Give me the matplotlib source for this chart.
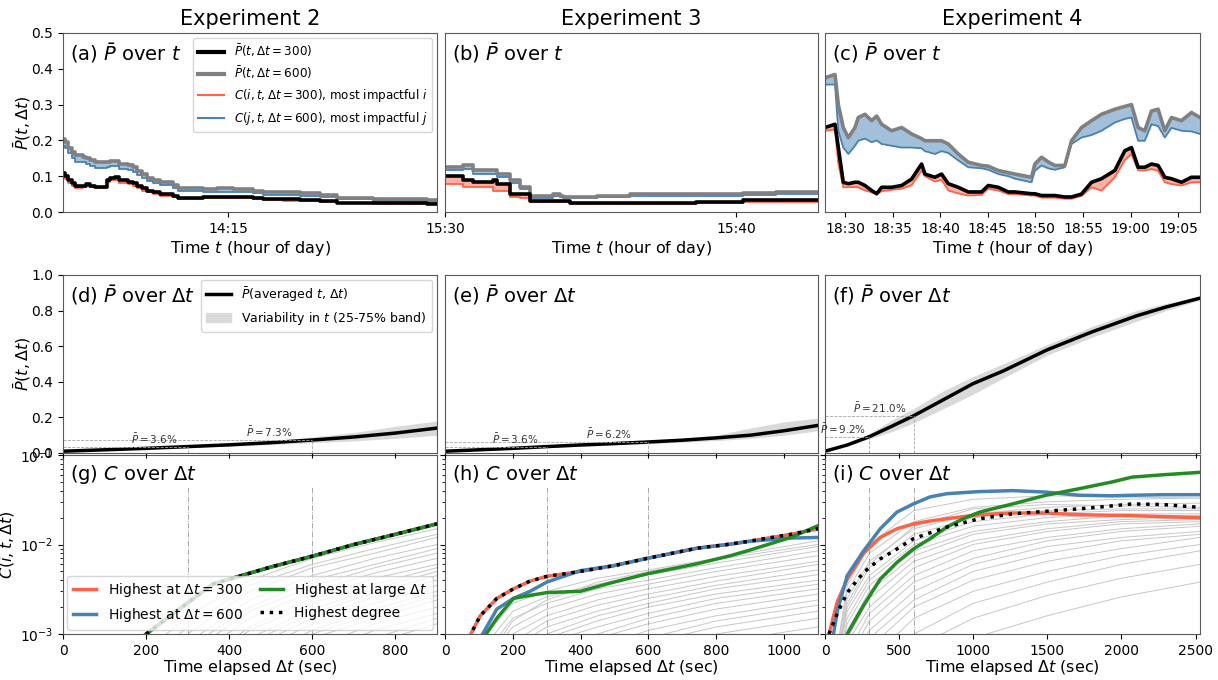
import numpy as np
import matplotlib.pyplot as plt
from matplotlib.ticker import FuncFormatter
from matplotlib.lines import Line2D
from matplotlib.patches import Patch

plt.rcParams['axes.edgecolor'] = '0.35'
plt.rcParams['xtick.labelsize'] = 10
plt.rcParams['ytick.labelsize'] = 10

RED = 'tomato'
BLUE = 'steelblue'
GREEN = 'forestgreen'

# ---------------- top row: P over t (minutes of the day) ----------------
exp2_t0 = 13 * 60 + 15.6
exp2_t = [0, 0.7, 1.9, 3.1, 4.3, 7.3, 8.3, 9.7, 11.5, 15.9, 16.9, 18.7, 20.2, 23.5, 25.3, 26.7, 28.3,
          30.1, 32.2, 34.9, 39.6, 41.4, 50.4, 55.2, 61.2, 68.4, 72.0, 79.2, 85.2, 92.3, 98.3, 111.5,
          121.1, 130.7, 134.4]
exp2_p300 = [0.110, 0.100, 0.090, 0.080, 0.072, 0.074, 0.078, 0.073, 0.070, 0.090, 0.095, 0.097, 0.088,
             0.085, 0.080, 0.072, 0.066, 0.060, 0.055, 0.050, 0.045, 0.040, 0.042, 0.043, 0.042, 0.040,
             0.036, 0.035, 0.034, 0.032, 0.026, 0.025, 0.024, 0.022, 0.022]
exp2_p600 = [0.205, 0.195, 0.180, 0.168, 0.158, 0.155, 0.150, 0.145, 0.140, 0.140, 0.142, 0.143, 0.135,
             0.130, 0.125, 0.115, 0.105, 0.095, 0.090, 0.085, 0.075, 0.068, 0.065, 0.066, 0.064, 0.060,
             0.055, 0.055, 0.052, 0.048, 0.040, 0.036, 0.035, 0.033, 0.033]
exp2_c300 = [0.100, 0.092, 0.082, 0.074, 0.068, 0.070, 0.073, 0.069, 0.067, 0.084, 0.088, 0.090, 0.082,
             0.079, 0.074, 0.066, 0.060, 0.055, 0.050, 0.045, 0.041, 0.036, 0.038, 0.039, 0.038, 0.036,
             0.033, 0.032, 0.031, 0.029, 0.024, 0.023, 0.022, 0.021, 0.021]
exp2_c600 = [0.185, 0.180, 0.165, 0.150, 0.140, 0.140, 0.135, 0.128, 0.124, 0.125, 0.128, 0.128, 0.120,
             0.116, 0.112, 0.102, 0.094, 0.086, 0.082, 0.076, 0.066, 0.058, 0.056, 0.057, 0.055, 0.052,
             0.048, 0.048, 0.045, 0.042, 0.035, 0.031, 0.030, 0.029, 0.029]

exp3_t0 = 15 * 60 + 30
exp3_t = [0, 0.63, 0.97, 1.66, 1.77, 2.23, 2.57, 2.91, 3.71, 3.94, 4.06, 4.29, 5.2, 6.34, 8.63, 10.23,
          11.37, 12.8]
exp3_p300 = [0.100, 0.090, 0.083, 0.088, 0.077, 0.051, 0.051, 0.032, 0.032, 0.032, 0.032, 0.025, 0.025,
             0.025, 0.028, 0.034, 0.034, 0.034]
exp3_p600 = [0.127, 0.130, 0.118, 0.118, 0.105, 0.088, 0.071, 0.044, 0.051, 0.046, 0.042, 0.042, 0.046,
             0.051, 0.051, 0.052, 0.056, 0.056]
exp3_c300 = [0.079, 0.069, 0.069, 0.060, 0.060, 0.042, 0.040, 0.028, 0.028, 0.028, 0.028, 0.022, 0.022,
             0.022, 0.024, 0.029, 0.029, 0.029]
exp3_c600 = [0.116, 0.120, 0.107, 0.107, 0.097, 0.080, 0.065, 0.040, 0.045, 0.042, 0.040, 0.040, 0.042,
             0.046, 0.046, 0.047, 0.050, 0.050]

exp4_t0 = 18 * 60 + 30
exp4_t = [-2.10, -1.05, -0.70, -0.18, 0.35, 1.05, 1.40, 2.10, 2.80, 3.33, 3.85, 4.90, 5.95, 7.00, 8.05,
          8.40, 9.45, 10.15, 10.85, 11.90, 12.95, 14.35, 15.05, 16.10, 17.15, 17.85, 19.60, 19.95, 20.65,
          21.35, 22.05, 23.10, 23.80, 24.85, 25.90, 26.95, 28.35, 29.40, 30.10, 30.80, 31.50, 32.20,
          32.90, 33.60, 34.30, 35.35, 36.40, 37.30]
exp4_p300 = [0.236, 0.245, 0.180, 0.083, 0.079, 0.083, 0.083, 0.074, 0.060, 0.051, 0.069, 0.069, 0.074,
             0.092, 0.134, 0.106, 0.097, 0.106, 0.079, 0.069, 0.056, 0.056, 0.074, 0.069, 0.056, 0.056,
             0.051, 0.051, 0.046, 0.046, 0.046, 0.042, 0.042, 0.050, 0.083, 0.093, 0.116, 0.171, 0.180,
             0.125, 0.125, 0.134, 0.130, 0.097, 0.093, 0.083, 0.097, 0.097]
exp4_p600 = [0.375, 0.384, 0.300, 0.236, 0.208, 0.236, 0.264, 0.273, 0.255, 0.268, 0.245, 0.227, 0.236,
             0.218, 0.205, 0.199, 0.199, 0.199, 0.190, 0.162, 0.139, 0.130, 0.128, 0.116, 0.110, 0.106,
             0.097, 0.134, 0.153, 0.140, 0.130, 0.130, 0.199, 0.236, 0.255, 0.273, 0.287, 0.295, 0.300,
             0.236, 0.227, 0.282, 0.287, 0.227, 0.264, 0.255, 0.278, 0.264]
exp4_c300 = [0.227, 0.230, 0.135, 0.069, 0.069, 0.070, 0.069, 0.060, 0.055, 0.050, 0.058, 0.062, 0.065,
             0.075, 0.116, 0.100, 0.085, 0.090, 0.060, 0.052, 0.046, 0.048, 0.065, 0.060, 0.050, 0.050,
             0.046, 0.046, 0.040, 0.040, 0.040, 0.037, 0.037, 0.045, 0.069, 0.060, 0.097, 0.145, 0.162,
             0.116, 0.116, 0.120, 0.115, 0.083, 0.078, 0.074, 0.083, 0.083]
exp4_c600 = [0.356, 0.356, 0.227, 0.180, 0.162, 0.185, 0.199, 0.205, 0.195, 0.200, 0.190, 0.185, 0.180,
             0.180, 0.178, 0.170, 0.162, 0.170, 0.165, 0.144, 0.125, 0.122, 0.118, 0.106, 0.100, 0.093,
             0.083, 0.115, 0.130, 0.122, 0.118, 0.125, 0.190, 0.208, 0.215, 0.227, 0.250, 0.260, 0.264,
             0.199, 0.199, 0.245, 0.240, 0.208, 0.235, 0.227, 0.225, 0.218]

# ---------------- middle row: P over dt ----------------
exp2_dt = [0, 100, 200, 300, 400, 500, 600, 700, 800, 900]
exp2_pm = [0.010, 0.018, 0.026, 0.036, 0.046, 0.058, 0.073, 0.090, 0.112, 0.140]
exp2_lo = [0.008, 0.015, 0.022, 0.030, 0.038, 0.047, 0.058, 0.068, 0.082, 0.100]
exp2_hi = [0.012, 0.022, 0.030, 0.042, 0.054, 0.068, 0.090, 0.115, 0.150, 0.180]

exp3_dt = [0, 100, 200, 300, 400, 500, 600, 700, 800, 900, 1000, 1100]
exp3_pm = [0.010, 0.018, 0.026, 0.036, 0.045, 0.053, 0.062, 0.072, 0.085, 0.100, 0.125, 0.155]
exp3_lo = [0.008, 0.015, 0.022, 0.031, 0.038, 0.045, 0.052, 0.060, 0.070, 0.082, 0.100, 0.125]
exp3_hi = [0.012, 0.021, 0.030, 0.041, 0.051, 0.060, 0.070, 0.082, 0.100, 0.140, 0.175, 0.196]

exp4_dt = [0, 150, 300, 450, 600, 800, 1000, 1200, 1500, 1800, 2100, 2300, 2530]
exp4_pm = [0.010, 0.045, 0.092, 0.150, 0.210, 0.300, 0.390, 0.460, 0.580, 0.680, 0.770, 0.820, 0.870]
exp4_lo = [0.008, 0.038, 0.080, 0.120, 0.170, 0.250, 0.330, 0.420, 0.550, 0.650, 0.740, 0.800, 0.860]
exp4_hi = [0.012, 0.055, 0.110, 0.185, 0.250, 0.350, 0.430, 0.500, 0.610, 0.710, 0.800, 0.840, 0.880]

# ---------------- bottom row: C over dt (log) ----------------
exp2_cdt = [200, 280, 360, 400, 500, 600, 700, 800, 900]
exp2_best = [0.0010, 0.0019, 0.0036, 0.0041, 0.0056, 0.0074, 0.0100, 0.0130, 0.0170]

exp3_cdt = [70, 104, 153, 202, 251, 300, 399, 498, 596, 744, 842, 892, 941, 1020, 1100]
exp3_c300dt = [0.0009, 0.0016, 0.0025, 0.0032, 0.0039, 0.0044, 0.0050, 0.0058, 0.0070, 0.0091, 0.0101,
               0.0108, 0.0116, 0.0130, 0.0150]
exp3_c600dt = [0.0006, 0.0009, 0.0019, 0.0025, 0.0030, 0.0038, 0.0051, 0.0058, 0.0070, 0.0091, 0.0101,
               0.0108, 0.0112, 0.0118, 0.0120]
exp3_clarge = [0.0005, 0.0008, 0.0015, 0.0025, 0.0027, 0.0029, 0.0030, 0.0038, 0.0047, 0.0061, 0.0075,
               0.0085, 0.0097, 0.0120, 0.0162]
exp3_cdeg = exp3_c300dt

exp4_cdt = [27, 83, 150, 261, 373, 485, 596, 708, 820, 932, 1043, 1266, 1490, 1714, 1937, 2071, 2272, 2530]
exp4_c300dt = [0.0010, 0.0023, 0.0041, 0.0080, 0.0120, 0.0150, 0.0170, 0.0183, 0.0194, 0.0205, 0.0215,
               0.0225, 0.0225, 0.0215, 0.0212, 0.0210, 0.0205, 0.0199]
exp4_c600dt = [0.0005, 0.0018, 0.0045, 0.0085, 0.0150, 0.0230, 0.0284, 0.0340, 0.0369, 0.0380, 0.0390,
               0.0400, 0.0385, 0.0355, 0.0350, 0.0355, 0.0360, 0.0360]
exp4_clarge = [0.0001, 0.0003, 0.0010, 0.0021, 0.0041, 0.0063, 0.0089, 0.0116, 0.0156, 0.0194, 0.0230,
               0.0284, 0.0355, 0.0420, 0.0500, 0.0566, 0.0600, 0.0640]
exp4_cdeg = [0.0010, 0.0017, 0.0029, 0.0049, 0.0069, 0.0089, 0.0116, 0.0135, 0.0156, 0.0175, 0.0194,
             0.0220, 0.0235, 0.0250, 0.0270, 0.0284, 0.0280, 0.0260]

# other nodes (grey), values at a few dt knots
exp2_knots = [0, 150, 300, 450, 600, 750, 900]
exp2_others = [
    [1e-4, 4e-4, 1.6e-3, 4.0e-3, 7.0e-3, 1.05e-2, 1.5e-2],
    [1e-4, 3e-4, 1.2e-3, 3.5e-3, 6.0e-3, 9.0e-3, 1.3e-2],
    [1e-4, 3e-4, 1.0e-3, 3.0e-3, 5.5e-3, 8.0e-3, 1.2e-2],
    [1e-4, 2e-4, 8e-4, 2.4e-3, 4.5e-3, 7.0e-3, 1.0e-2],
    [1e-4, 2e-4, 7e-4, 2.0e-3, 4.0e-3, 6.0e-3, 9.0e-3],
    [1e-4, 2e-4, 6e-4, 1.8e-3, 3.4e-3, 5.5e-3, 8.0e-3],
    [1e-4, 2e-4, 5e-4, 1.5e-3, 3.0e-3, 4.8e-3, 7.0e-3],
    [1e-4, 1e-4, 4e-4, 1.2e-3, 2.5e-3, 4.2e-3, 6.0e-3],
    [1e-4, 1e-4, 4e-4, 1.1e-3, 2.2e-3, 3.6e-3, 5.5e-3],
    [1e-4, 1e-4, 3e-4, 9e-4, 1.9e-3, 3.2e-3, 5.0e-3],
    [1e-4, 1e-4, 3e-4, 8e-4, 1.7e-3, 2.9e-3, 4.5e-3],
    [1e-4, 1e-4, 3e-4, 7e-4, 1.5e-3, 2.6e-3, 4.0e-3],
    [1e-4, 1e-4, 2e-4, 6e-4, 1.3e-3, 2.2e-3, 3.5e-3],
    [1e-4, 1e-4, 2e-4, 5e-4, 1.1e-3, 1.9e-3, 3.0e-3],
    [1e-4, 1e-4, 2e-4, 5e-4, 1.0e-3, 1.7e-3, 2.7e-3],
    [1e-4, 1e-4, 2e-4, 4e-4, 9e-4, 1.5e-3, 2.4e-3],
    [1e-4, 1e-4, 1e-4, 3e-4, 7e-4, 1.3e-3, 2.0e-3],
    [1e-4, 1e-4, 1e-4, 3e-4, 6e-4, 1.1e-3, 1.7e-3],
    [1e-4, 1e-4, 1e-4, 2e-4, 5e-4, 9e-4, 1.5e-3],
    [1e-4, 1e-4, 1e-4, 2e-4, 4e-4, 8e-4, 1.3e-3],
]
exp3_knots = [0, 100, 200, 300, 450, 600, 800, 1100]
exp3_others = [
    [1e-4, 8e-4, 2.2e-3, 3.0e-3, 4.2e-3, 5.2e-3, 7.0e-3, 1.1e-2],
    [1e-4, 6e-4, 1.8e-3, 2.6e-3, 3.6e-3, 4.6e-3, 6.2e-3, 9.5e-3],
    [1e-4, 5e-4, 1.5e-3, 2.2e-3, 3.2e-3, 4.0e-3, 5.5e-3, 8.5e-3],
    [1e-4, 4e-4, 1.2e-3, 1.9e-3, 2.8e-3, 3.6e-3, 5.0e-3, 7.5e-3],
    [1e-4, 3e-4, 1.0e-3, 1.6e-3, 2.4e-3, 3.2e-3, 4.4e-3, 6.5e-3],
    [1e-4, 3e-4, 8e-4, 1.4e-3, 2.1e-3, 2.8e-3, 3.9e-3, 6.0e-3],
    [1e-4, 2e-4, 7e-4, 1.2e-3, 1.8e-3, 2.5e-3, 3.5e-3, 5.2e-3],
    [1e-4, 2e-4, 6e-4, 1.0e-3, 1.6e-3, 2.2e-3, 3.2e-3, 4.6e-3],
    [1e-4, 2e-4, 5e-4, 9e-4, 1.4e-3, 2.0e-3, 2.8e-3, 4.0e-3],
    [1e-4, 1e-4, 4e-4, 8e-4, 1.2e-3, 1.7e-3, 2.5e-3, 3.6e-3],
    [1e-4, 1e-4, 3e-4, 6e-4, 1.0e-3, 1.5e-3, 2.2e-3, 3.2e-3],
    [1e-4, 1e-4, 3e-4, 5e-4, 9e-4, 1.3e-3, 1.9e-3, 2.8e-3],
    [1e-4, 1e-4, 2e-4, 4e-4, 7e-4, 1.1e-3, 1.6e-3, 2.4e-3],
    [1e-4, 1e-4, 2e-4, 3e-4, 6e-4, 9e-4, 1.4e-3, 2.1e-3],
    [1e-4, 1e-4, 1e-4, 3e-4, 5e-4, 8e-4, 1.2e-3, 1.8e-3],
    [1e-4, 1e-4, 1e-4, 2e-4, 4e-4, 6e-4, 1.0e-3, 1.5e-3],
    [1e-4, 1e-4, 1e-4, 2e-4, 3e-4, 5e-4, 8e-4, 1.2e-3],
    [1e-4, 4e-4, 1.4e-3, 2.4e-3, 3.8e-3, 5.0e-3, 6.8e-3, 1.0e-2],
]
exp4_knots = [0, 150, 300, 600, 1000, 1500, 2000, 2530]
exp4_others = [
    [1e-4, 3.0e-3, 8.0e-3, 1.8e-2, 2.6e-2, 3.0e-2, 3.2e-2, 3.3e-2],
    [1e-4, 2.5e-3, 6.5e-3, 1.5e-2, 2.2e-2, 2.6e-2, 2.8e-2, 2.9e-2],
    [1e-4, 2.0e-3, 5.5e-3, 1.3e-2, 2.0e-2, 2.4e-2, 2.5e-2, 2.5e-2],
    [1e-4, 1.8e-3, 4.5e-3, 1.1e-2, 1.8e-2, 2.2e-2, 2.4e-2, 2.4e-2],
    [1e-4, 1.5e-3, 4.0e-3, 1.0e-2, 1.6e-2, 2.0e-2, 2.2e-2, 2.2e-2],
    [1e-4, 1.3e-3, 3.5e-3, 8.5e-3, 1.4e-2, 1.8e-2, 2.1e-2, 2.1e-2],
    [1e-4, 1.1e-3, 3.0e-3, 7.5e-3, 1.3e-2, 1.7e-2, 1.9e-2, 2.0e-2],
    [1e-4, 9e-4, 2.5e-3, 6.5e-3, 1.1e-2, 1.5e-2, 1.8e-2, 1.9e-2],
    [1e-4, 8e-4, 2.0e-3, 5.5e-3, 1.0e-2, 1.4e-2, 1.7e-2, 1.8e-2],
    [1e-4, 6e-4, 1.7e-3, 4.5e-3, 8.5e-3, 1.2e-2, 1.5e-2, 1.7e-2],
    [1e-4, 5e-4, 1.4e-3, 3.8e-3, 7.0e-3, 1.1e-2, 1.4e-2, 1.6e-2],
    [1e-4, 4e-4, 1.1e-3, 3.0e-3, 6.0e-3, 9.5e-3, 1.2e-2, 1.4e-2],
    [1e-4, 3e-4, 9e-4, 2.4e-3, 5.0e-3, 8.0e-3, 1.1e-2, 1.3e-2],
    [1e-4, 3e-4, 7e-4, 2.0e-3, 4.0e-3, 6.5e-3, 9.0e-3, 1.2e-2],
    [1e-4, 2e-4, 5e-4, 1.5e-3, 3.0e-3, 5.0e-3, 7.5e-3, 1.0e-2],
    [1e-4, 2e-4, 4e-4, 1.0e-3, 2.2e-3, 3.8e-3, 6.0e-3, 8.5e-3],
    [1e-4, 1e-4, 3e-4, 7e-4, 1.5e-3, 2.7e-3, 4.2e-3, 6.0e-3],
    [1e-4, 1e-4, 2e-4, 4e-4, 9e-4, 1.6e-3, 2.6e-3, 3.8e-3],
    [1e-4, 3.5e-3, 1.0e-2, 2.4e-2, 3.2e-2, 3.5e-2, 3.4e-2, 3.3e-2],
    [1e-4, 2.2e-3, 6.0e-3, 1.6e-2, 2.5e-2, 2.8e-2, 2.7e-2, 2.6e-2],
]

titles = ['Experiment 2', 'Experiment 3', 'Experiment 4']

# ---------------- figure / axes ----------------
W, H = 1218, 680
fig = plt.figure(figsize=(W / 100, H / 100), dpi=100)
cols = [(63, 374), (445, 373), (825, 375)]
rows = [(33, 212), (275, 453), (455, 634)]


def box(c, r):
    x0, w = cols[c]
    top, bot = rows[r]
    return [x0 / W, 1 - bot / H, w / W, (bot - top) / H]


top, mid, bot = [], [], []
for c in range(3):
    a = fig.add_axes(box(c, 0), sharey=top[0] if c else None)
    b3 = fig.add_axes(box(c, 2), sharey=bot[0] if c else None)
    m = fig.add_axes(box(c, 1), sharey=mid[0] if c else None, sharex=b3)
    top.append(a)
    mid.append(m)
    bot.append(b3)


def hhmm(m, pos):
    m = int(round(m))
    return f'{m // 60}:{m % 60:02d}'


# ----- top row -----
top_data = [
    (exp2_t0, exp2_t, exp2_p300, exp2_p600, exp2_c300, exp2_c600, [14 * 60 + 15], 'steps-post'),
    (exp3_t0, exp3_t, exp3_p300, exp3_p600, exp3_c300, exp3_c600, [15 * 60 + 30, 15 * 60 + 40], 'steps-post'),
    (exp4_t0, exp4_t, exp4_p300, exp4_p600, exp4_c300, exp4_c600, list(range(18 * 60 + 30, 19 * 60 + 6, 5)),
     'default'),
]
letters_top = ['a', 'b', 'c']
for c, (t0, t, p3, p6, c3, c6, ticks, ds) in enumerate(top_data):
    ax = top[c]
    tt = t0 + np.array(t)
    st = 'post' if ds == 'steps-post' else None
    ax.fill_between(tt, c6, p6, step=st, color=BLUE, alpha=0.5, lw=0)
    ax.fill_between(tt, c3, p3, step=st, color=RED, alpha=0.5, lw=0)
    ax.plot(tt, c3, drawstyle=ds, color=RED, lw=1.3)
    ax.plot(tt, c6, drawstyle=ds, color=BLUE, lw=1.3)
    ax.plot(tt, p6, drawstyle=ds, color='grey', lw=2.6)
    ax.plot(tt, p3, drawstyle=ds, color='black', lw=2.6)
    ax.set_xlim(tt[0], tt[-1])
    ax.set_xticks(ticks)
    ax.xaxis.set_major_formatter(FuncFormatter(hhmm))
    ax.set_xlabel('Time $t$ (hour of day)', fontsize=11.5, labelpad=2)
    ax.set_title(titles[c], fontsize=15, pad=6)
    ax.text(0.02, 0.955, f'({letters_top[c]}) ' + r'$\bar{P}$ over $t$', transform=ax.transAxes,
            fontsize=14, va='top')
    if c:
        ax.tick_params(axis='y', left=False, labelleft=False)
top[0].set_ylim(0, 0.5)
top[0].set_yticks(np.arange(0, 0.51, 0.1))
top[0].set_ylabel(r'$\bar{P}(t, \Delta t)$', fontsize=11.5)
h_top = [Line2D([], [], color='black', lw=3), Line2D([], [], color='grey', lw=3),
         Line2D([], [], color=RED, lw=1.5), Line2D([], [], color=BLUE, lw=1.5)]
l_top = [r'$\bar{P}(t, \Delta t = 300)$', r'$\bar{P}(t, \Delta t = 600)$',
         r'$C(i, t, \Delta t = 300)$, most impactful $i$', r'$C(j, t, \Delta t = 600)$, most impactful $j$']
top[0].legend(h_top, l_top, loc='upper right', fontsize=8.6, handlelength=2.2, borderaxespad=0.4)

# ----- middle row -----
mid_data = [(exp2_dt, exp2_pm, exp2_lo, exp2_hi), (exp3_dt, exp3_pm, exp3_lo, exp3_hi),
            (exp4_dt, exp4_pm, exp4_lo, exp4_hi)]
letters_mid = ['d', 'e', 'f']
for c, (dt, pm, lo, hi) in enumerate(mid_data):
    ax = mid[c]
    ax.fill_between(dt, lo, hi, color='0.85', lw=0)
    ax.plot(dt, pm, color='black', lw=2.5)
    for thr in (300, 600):
        v = np.interp(thr, dt, pm)
        ax.plot([0, thr], [v, v], color='0.65', lw=0.6, ls='--')
        ax.plot([thr, thr], [0, v], color='0.65', lw=0.6, ls='--')
        ax.text(thr * 0.92, v + 0.005, r'$\bar{P} = %.1f\%%$' % (v * 100), ha='right', va='bottom',
                fontsize=7.5, color='0.2')
    ax.text(0.02, 0.955, f'({letters_mid[c]}) ' + r'$\bar{P}$ over $\Delta t$', transform=ax.transAxes,
            fontsize=14, va='top')
    ax.tick_params(axis='x', labelbottom=False)
    if c:
        ax.tick_params(axis='y', left=False, labelleft=False)
mid[0].set_ylim(0, 1.0)
mid[0].set_yticks(np.arange(0, 1.01, 0.2))
mid[0].set_ylabel(r'$\bar{P}(t, \Delta t)$', fontsize=11.5)
h_mid = [Line2D([], [], color='black', lw=2.5), Patch(color='0.85')]
l_mid = [r'$\bar{P}$(averaged $t$, $\Delta t$)', r'Variability in $t$ (25-75% band)']
mid[0].legend(h_mid, l_mid, loc='upper right', fontsize=9, borderaxespad=0.4)

# ----- bottom row -----
bot_data = [
    (exp2_knots, exp2_others, exp2_cdt, exp2_best, exp2_best, exp2_best, exp2_best, 900),
    (exp3_knots, exp3_others, exp3_cdt, exp3_c300dt, exp3_c600dt, exp3_clarge, exp3_cdeg, 1100),
    (exp4_knots, exp4_others, exp4_cdt, exp4_c300dt, exp4_c600dt, exp4_clarge, exp4_cdeg, 2530),
]
letters_bot = ['g', 'h', 'i']
for c, (knots, others, cdt, c3, c6, cl, cd, xmax) in enumerate(bot_data):
    ax = bot[c]
    ax.set_yscale('log')
    for line in others:
        ax.plot(knots, line, color='0.78', lw=0.7)
    for thr in (300, 600):
        ax.axvline(thr, ymax=0.82, color='0.6', lw=0.6, ls='-.')
    ax.plot(cdt, c3, color=RED, lw=2.5)
    ax.plot(cdt, c6, color=BLUE, lw=2.5)
    ax.plot(cdt, cl, color=GREEN, lw=2.5)
    ax.plot(cdt, cd, color='black', lw=2.5, ls=':')
    ax.set_xlim(0, xmax)
    ax.set_xlabel(r'Time elapsed $\Delta t$ (sec)', fontsize=11.5, labelpad=0)
    ax.text(0.02, 0.955, f'({letters_bot[c]}) ' + r'$C$ over $\Delta t$', transform=ax.transAxes,
            fontsize=14, va='top')
    if c:
        ax.tick_params(axis='y', which='both', labelleft=False)
bot[0].set_ylim(1e-3, 1e-1)
bot[0].set_ylabel(r'$C(i, t, \Delta t)$', fontsize=11.5)
bot[0].set_xticks([0, 200, 400, 600, 800])
bot[1].set_xticks([0, 200, 400, 600, 800, 1000])
bot[2].set_xticks([0, 500, 1000, 1500, 2000, 2500])
h_bot = [Line2D([], [], color=RED, lw=2.5), Line2D([], [], color=BLUE, lw=2.5),
         Line2D([], [], color=GREEN, lw=2.5), Line2D([], [], color='black', lw=2.5, ls=':')]
l_bot = [r'Highest at $\Delta t = 300$', r'Highest at $\Delta t = 600$', r'Highest at large $\Delta t$',
         'Highest degree']
bot[0].legend(h_bot, l_bot, loc='lower right', ncol=2, fontsize=10, handlelength=1.7, columnspacing=1.2,
              borderaxespad=0.3)

top[0].yaxis.set_label_coords(-0.08, 0.5)
mid[0].yaxis.set_label_coords(-0.08, 0.5)
bot[0].yaxis.set_label_coords(-0.125, 0.5)

fig.savefig('out.png', dpi=100)
